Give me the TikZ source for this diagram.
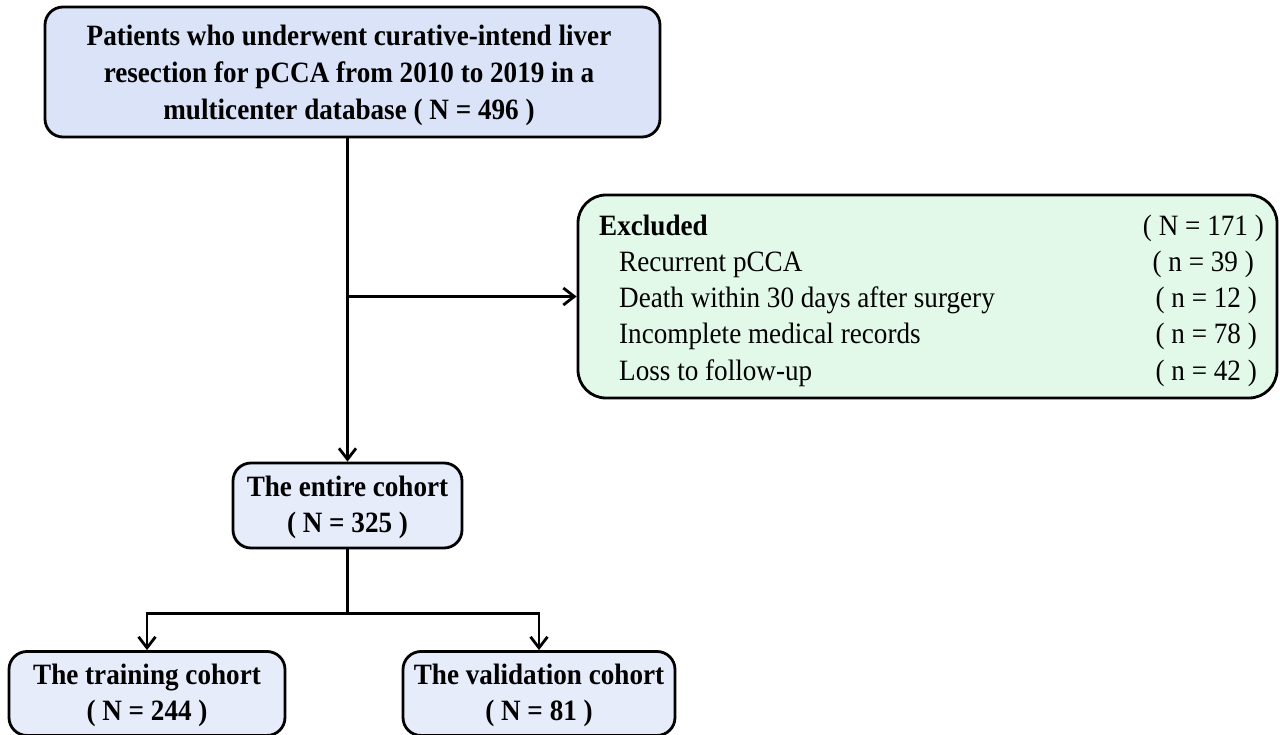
\documentclass[tikz,border=0pt]{standalone}
\usepackage{fontspec}
\setmainfont{Liberation Serif}[FakeStretch=0.92]
\usetikzlibrary{arrows.meta,calc}
\definecolor{topfill}{RGB}{218,227,247}
\definecolor{cohfill}{RGB}{230,236,250}
\definecolor{exfill}{RGB}{226,249,233}
\begin{document}
\begin{tikzpicture}[x=1pt,y=-1pt,
  box/.style={draw=black,line width=2.8pt,rounded corners=18pt,inner sep=0pt},
  txt/.style={anchor=base,inner sep=0pt,font=\fontsize{29.5}{37}\selectfont\bfseries},
  itm/.style={inner sep=0pt,font=\fontsize{29.5}{37}\selectfont},
  conn/.style={line width=2.8pt},
  arr/.style={line width=2.8pt,-{Straight Barb[length=11pt,width=17pt]}}]
\useasboundingbox (0,0) rectangle (1280,735);
% boxes
\node[box,fill=topfill,minimum width=615pt,minimum height=130pt] (top) at (352.5,72) {};
\node[box,fill=exfill,rounded corners=28pt,minimum width=699pt,minimum height=203pt] (excl) at (927.5,296.5) {};
\node[box,fill=cohfill,minimum width=229pt,minimum height=85pt] (entire) at (347.5,505.5) {};
\node[box,fill=cohfill,minimum width=276pt,minimum height=84pt] (train) at (147,693.5) {};
\node[box,fill=cohfill,minimum width=272pt,minimum height=84pt] (valid) at (539,693.5) {};
% texts
\node[txt] (t1) at (349,46) {Patients who underwent curative-intend liver};
\node[txt] (t2) at (349,83) {resection for pCCA from 2010 to 2019 in a};
\node[txt] (t3) at (349,120) {multicenter database ( N = 496 )};
\node[txt] (e1) at (347.5,496) {The entire cohort};
\node[txt] (e2) at (347.5,532) {( N = 325 )};
\node[txt] (r1) at (147,684) {The training cohort};
\node[txt] (r2) at (147,720) {( N = 244 )};
\node[txt] (v1) at (539,684) {The validation cohort};
\node[txt] (v2) at (539,720) {( N = 81 )};
\node[itm,anchor=base west,font=\fontsize{29.5}{37}\selectfont\bfseries] (x0) at (599,236) {Excluded};
\node[itm,anchor=base east] (n0) at (1264,236) {( N = 171 )};
\node[itm,anchor=base west] (x1) at (619,272) {Recurrent pCCA};
\node[itm,anchor=base east] (n1) at (1254,272) {( n = 39 )};
\node[itm,anchor=base west] (x2) at (619,308) {Death within 30 days after surgery};
\node[itm,anchor=base east] (n2) at (1257,308) {( n = 12 )};
\node[itm,anchor=base west] (x3) at (619,344) {Incomplete medical records};
\node[itm,anchor=base east] (n3) at (1257,344) {( n = 78 )};
\node[itm,anchor=base west] (x4) at (619,380) {Loss to follow-up};
\node[itm,anchor=base east] (n4) at (1257,380) {( n = 42 )};
% connectors
\coordinate (s0) at (entire.north |- top.south);
\draw[arr] (s0) -- (entire.north);
\coordinate (br) at (entire.north |- excl.west);
\draw[arr] (br) -- (excl.west);
\coordinate (j) at ($(entire.south)+(0,64)$);
\draw[conn] (entire.south) -- (j);
\coordinate (jl) at (train.north |- j);
\coordinate (jr) at (valid.north |- j);
\draw[conn] ([xshift=-1.4pt]jl) -- ([xshift=1.4pt]jr);
\draw[arr] (jl) -- (train.north);
\draw[arr] (jr) -- (valid.north);
\end{tikzpicture}
\end{document}
